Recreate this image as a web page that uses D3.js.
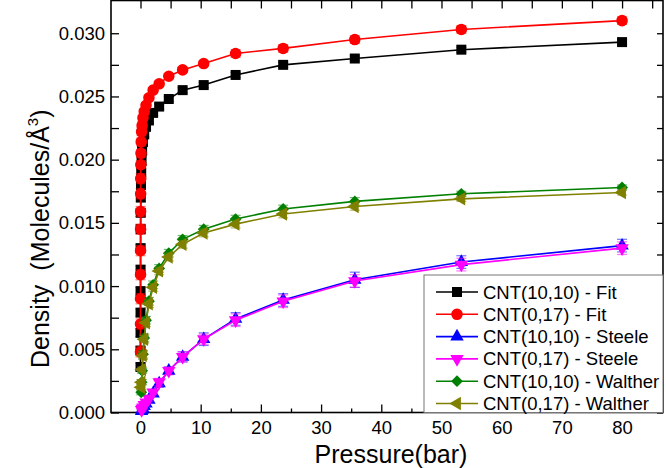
<!DOCTYPE html>
<html>
<head>
<meta charset="utf-8">
<script src="https://cdn.jsdelivr.net/npm/d3@7"></script>
<style>
  body { margin: 0; background: #fff; }
  svg { display: block; font-family: "Liberation Sans", Arial, sans-serif; }
</style>
</head>
<body>
<svg id="chart" width="666" height="468"></svg>
<script>
// pressures (bar) used by each set of runs
var pFit = [80, 53.3, 35.6, 23.7, 15.8, 10.5, 7.0, 4.7, 3.1, 2.1, 1.4, 0.92, 0.62, 0.41, 0.27, 0.18, 0.12, 0.08, 0.053, 0.036, 0.024, 0.016, 0.011, 0.007, 0.0047, 0.0031, 0.0021, 0.0014];
var pWalther = [80, 53.3, 35.6, 23.7, 15.8, 10.5, 7.0, 4.7, 3.1, 2.1, 1.4, 0.92, 0.62, 0.41, 0.27, 0.18, 0.12];
var pSteele = [80, 53.3, 35.6, 23.7, 15.8, 10.5, 7.0, 4.7, 3.1, 2.1, 1.4, 0.92, 0.62, 0.41, 0.27, 0.18];

// densities (molecules / A^3)
var fit1010 = [0.0293, 0.0287, 0.0280, 0.0275, 0.0267, 0.0259, 0.0255, 0.0248, 0.0242, 0.0237, 0.0231, 0.0226, 0.0220, 0.0214, 0.0207, 0.0199, 0.0190, 0.0180, 0.0170, 0.0158, 0.0145, 0.0130, 0.0113, 0.0096, 0.0079, 0.0063, 0.0049, 0.0036];
var fit017 = [0.0310, 0.0303, 0.0295, 0.0288, 0.0284, 0.0276, 0.0271, 0.0266, 0.0260, 0.0255, 0.0249, 0.0243, 0.0238, 0.0233, 0.0227, 0.0222, 0.0214, 0.0205, 0.0196, 0.0185, 0.0173, 0.0159, 0.0145, 0.0128, 0.0109, 0.0090, 0.0070, 0.0048];
var steele1010 = [0.0132, 0.0119, 0.0105, 0.0089, 0.0074, 0.0058, 0.0044, 0.0033, 0.0023, 0.0015, 0.0010, 0.0007, 0.0005, 0.0003, 0.0002, 0.0001];
var steele017 = [0.0130, 0.0117, 0.0104, 0.0088, 0.0073, 0.0058, 0.0044, 0.0033, 0.0024, 0.0016, 0.0011, 0.0008, 0.0006, 0.0004, 0.0003, 0.0002];
var walther1010 = [0.0178, 0.0173, 0.0167, 0.0161, 0.0153, 0.0145, 0.0137, 0.0126, 0.0114, 0.0101, 0.0088, 0.0073, 0.0059, 0.0046, 0.0033, 0.0024, 0.0016];
var walther017 = [0.0174, 0.0169, 0.0163, 0.0157, 0.0149, 0.0142, 0.0133, 0.0123, 0.0112, 0.0099, 0.0086, 0.0071, 0.0058, 0.0045, 0.0034, 0.0024, 0.0020];

// error bars (same units)
var errFit1010 = [0.0002, 0.0002, 0.0002, 0.0002, 0.0002, 0.0002, 0.0002, 0.0002, 0.0002, 0.0002, 0.0002, 0.0002, 0.0002, 0.0002, 0.0003, 0.0003, 0.0003, 0.0003, 0.0003, 0.0003, 0.0003, 0.0003, 0.0003, 0.0003, 0.0003, 0.0003, 0.0003, 0.0003];
var errFit017 = [0.0003, 0.0003, 0.0003, 0.0003, 0.0003, 0.0002, 0.0002, 0.0002, 0.0002, 0.0002, 0.0002, 0.0002, 0.0002, 0.0002, 0.0003, 0.0003, 0.0003, 0.0003, 0.0003, 0.0004, 0.0004, 0.0004, 0.0004, 0.0004, 0.0004, 0.0004, 0.0004, 0.0004];
var errSteele1010 = [0.0005, 0.0005, 0.0006, 0.0005, 0.0005, 0.0005, 0.0004, 0.0003, 0.0003, 0.0002, 0.0002, 0.0002, 0.0001, 0.0001, 0.0001, 0.0001];
var errSteele017 = [0.0005, 0.0005, 0.0005, 0.0005, 0.0005, 0.0004, 0.0004, 0.0003, 0.0003, 0.0002, 0.0002, 0.0001, 0.0001, 0.0001, 0.0001, 0.0001];
var errWalther1010 = [0.0002, 0.0002, 0.0003, 0.0003, 0.0003, 0.0003, 0.0003, 0.0003, 0.0003, 0.0003, 0.0003, 0.0003, 0.0003, 0.0003, 0.0002, 0.0002, 0.0002];
var errWalther017 = [0.0002, 0.0002, 0.0003, 0.0003, 0.0003, 0.0003, 0.0003, 0.0003, 0.0003, 0.0003, 0.0003, 0.0003, 0.0003, 0.0003, 0.0002, 0.0002, 0.0002];

var xTickValues = [0, 10, 20, 30, 40, 50, 60, 70, 80];
var xMinorValues = [5, 15, 25, 35, 45, 55, 65, 75, 85];
var xTopValues = [0, 5, 10, 15, 20, 25, 30, 35, 40, 45, 50, 55, 60, 65, 70, 75, 80, 85];
var yTickValues = [0, 0.0025, 0.005, 0.0075, 0.010, 0.0125, 0.015, 0.0175, 0.020, 0.0225, 0.025, 0.0275, 0.030];

var series = [
    {name: 'CNT(10,10) - Fit', p: pFit, d: fit1010, e: errFit1010, color: '#000000', shape: 'square'},
    {name: 'CNT(0,17) - Fit', p: pFit, d: fit017, e: errFit017, color: '#ff0000', shape: 'circle'},
    {name: 'CNT(10,10) - Steele', p: pSteele, d: steele1010, e: errSteele1010, color: '#0000ff', shape: 'up'},
    {name: 'CNT(0,17) - Steele', p: pSteele, d: steele017, e: errSteele017, color: '#ff00ff', shape: 'down'},
    {name: 'CNT(10,10) - Walther', p: pWalther, d: walther1010, e: errWalther1010, color: '#008000', shape: 'diamond'},
    {name: 'CNT(0,17) - Walther', p: pWalther, d: walther017, e: errWalther017, color: '#808000', shape: 'left'}
];

var mLeft = 111, mRight = 663, mTop = 0.5, mBottom = 412.5;

var svg = d3.select('#chart');

var x = d3.scaleLinear().domain([-4.9, 86.8]).range([mLeft, mRight]);
var y = d3.scaleLinear().domain([0, 0.03259]).range([mBottom, mTop]);

function symbolPath(shape) {
    if (shape == 'square') return d3.symbol().type(d3.symbolSquare).size(100)();
    if (shape == 'circle') return d3.symbol().type(d3.symbolCircle).size(105)();
    if (shape == 'diamond') return d3.symbol().type(d3.symbolSquare).size(70)();
    return d3.symbol().type(d3.symbolTriangle).size(78)();
}
function symbolRotate(shape) {
    if (shape == 'diamond') return 45;
    if (shape == 'down') return 180;
    if (shape == 'left') return -90;
    return 0;
}

// ticks (all pointing into the frame)
function addAxis(axis, tx, ty) {
    var g = svg.append('g').attr('transform', 'translate(' + tx + ',' + ty + ')').call(axis);
    g.select('.domain').remove();
    g.selectAll('line').attr('stroke', '#000').attr('stroke-width', 1.3);
    g.selectAll('text').attr('font-size', 18.5).attr('fill', '#000')
        .attr('font-family', '"Liberation Sans", Arial, sans-serif');
    return g;
}

addAxis(d3.axisBottom(x).tickValues(xTickValues).tickSize(-8).tickPadding(8), 0, mBottom);
addAxis(d3.axisBottom(x).tickValues(xMinorValues).tickSize(-4).tickFormat(''), 0, mBottom);
addAxis(d3.axisLeft(y).tickValues(yTickValues).tickSize(-8).tickPadding(6)
    .tickFormat(function(d, i) { return i % 2 == 0 ? d3.format('.3f')(d) : ''; }), mLeft, 0);
addAxis(d3.axisTop(x).tickValues(xTopValues).tickSize(-8).tickFormat(''), 0, mTop);
addAxis(d3.axisRight(y).tickValues(yTickValues).tickSize(-6).tickFormat(''), mRight, 0);

// frame
svg.append('rect')
    .attr('x', mLeft).attr('y', mTop)
    .attr('width', mRight - mLeft).attr('height', mBottom - mTop)
    .attr('fill', 'none').attr('stroke', '#000').attr('stroke-width', 1.6);

var plot = svg.append('g');

series.forEach(function(s) {
    var pts = s.p.map(function(p, i) { return {p: p, d: s.d[i], e: s.e[i]}; });
    var g = plot.append('g');

    var line = d3.line().x(function(d) { return x(d.p); }).y(function(d) { return y(d.d); });
    g.append('path').datum(pts)
        .attr('d', line)
        .attr('fill', 'none')
        .attr('stroke', s.color)
        .attr('stroke-width', 1.6);

    var eb = g.selectAll('g.err').data(pts).enter().append('g')
        .attr('stroke', s.color).attr('stroke-opacity', 0.55).attr('stroke-width', 1.2);
    eb.append('line')
        .attr('x1', function(d) { return x(d.p); }).attr('x2', function(d) { return x(d.p); })
        .attr('y1', function(d) { return y(d.d + d.e); }).attr('y2', function(d) { return y(d.d - d.e); });
    eb.append('line')
        .attr('x1', function(d) { return x(d.p) - 5; }).attr('x2', function(d) { return x(d.p) + 5; })
        .attr('y1', function(d) { return y(d.d + d.e); }).attr('y2', function(d) { return y(d.d + d.e); });
    eb.append('line')
        .attr('x1', function(d) { return x(d.p) - 5; }).attr('x2', function(d) { return x(d.p) + 5; })
        .attr('y1', function(d) { return y(d.d - d.e); }).attr('y2', function(d) { return y(d.d - d.e); });

    g.selectAll('path.mk').data(pts).enter().append('path')
        .attr('class', 'mk')
        .attr('d', symbolPath(s.shape))
        .attr('transform', function(d) {
            return 'translate(' + x(d.p) + ',' + y(d.d) + ') rotate(' + symbolRotate(s.shape) + ')';
        })
        .attr('fill', s.color);
});

// legend
var lg = svg.append('g');
lg.append('rect')
    .attr('x', 424).attr('y', 275).attr('width', mRight - 424).attr('height', mBottom - 275)
    .attr('fill', '#fff').attr('stroke', '#777').attr('stroke-width', 1);

series.forEach(function(s, i) {
    var ly = 292 + i * 22.3;
    lg.append('line')
        .attr('x1', 436).attr('x2', 478).attr('y1', ly).attr('y2', ly)
        .attr('stroke', s.color).attr('stroke-width', 1.6);
    lg.append('path')
        .attr('d', symbolPath(s.shape))
        .attr('transform', 'translate(457,' + ly + ') rotate(' + symbolRotate(s.shape) + ')')
        .attr('fill', s.color);
    lg.append('text')
        .attr('x', 483).attr('y', ly + 6.5)
        .attr('font-size', 18.5)
        .attr('fill', '#000')
        .text(s.name);
});

// axis titles
svg.append('text')
    .attr('x', (mLeft + mRight) / 2 + 4).attr('y', 463)
    .attr('text-anchor', 'middle')
    .attr('font-size', 25)
    .text('Pressure(bar)');

var yt = svg.append('text')
    .attr('transform', 'translate(49,368) rotate(-90)')
    .attr('font-size', 25);
yt.append('tspan').text('Density');
yt.append('tspan').attr('dx', 14).text('(Molecules/Å');
yt.append('tspan').attr('font-size', 15).attr('dy', -11).text('3');
yt.append('tspan').attr('dy', 11).text(')');
</script>
</body>
</html>
